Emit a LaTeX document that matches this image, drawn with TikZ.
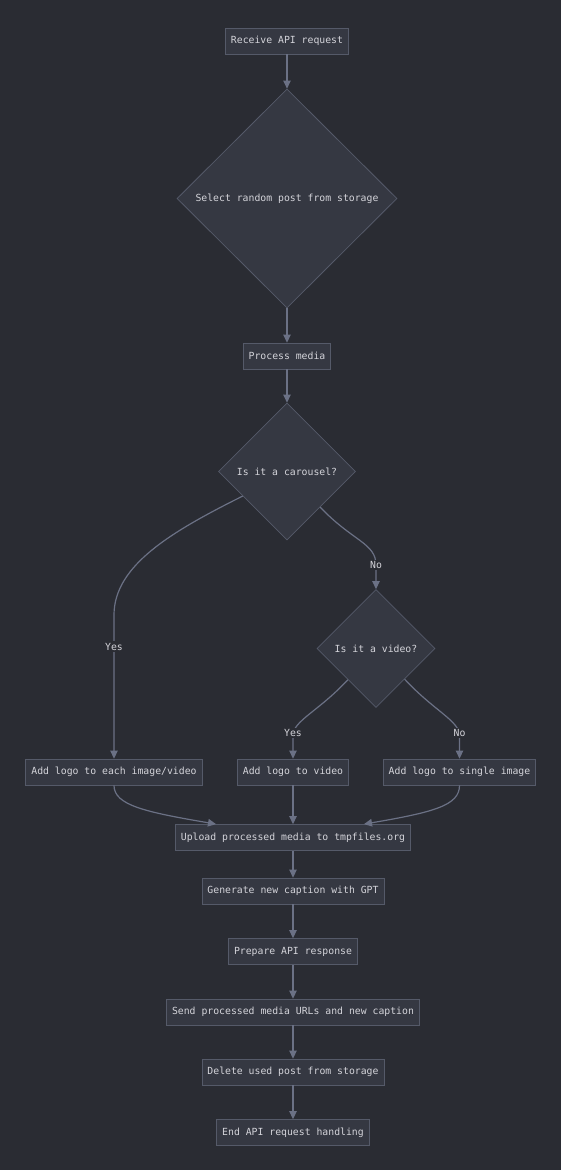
\documentclass[tikz,border=0pt]{standalone}
\usepackage{fontspec}
\setmonofont{DejaVu Sans Mono}
\usetikzlibrary{shapes.geometric,arrows.meta}
\definecolor{bgdark}{HTML}{2A2C33}
\definecolor{nodefill}{HTML}{353842}
\definecolor{nodeline}{HTML}{555A69}
\definecolor{edgeline}{HTML}{6B7185}
\definecolor{nodetext}{HTML}{D4D4DA}
\begin{document}
\begin{tikzpicture}[x=1pt,y=-1pt,
    box/.style={draw=nodeline,fill=nodefill,text=nodetext,line width=0.8pt,
        font=\ttfamily\fontsize{9.8}{12}\selectfont,minimum height=26pt,inner xsep=5.5pt},
    choice/.style={box,shape=diamond,inner sep=0pt},
    edge/.style={draw=edgeline,line width=1.2pt,-{Triangle[length=8pt,width=7.5pt]}},
    lbl/.style={fill=bgdark,text=nodetext,font=\ttfamily\fontsize{9.8}{12}\selectfont,inner sep=1.5pt}]
    % background
    \useasboundingbox (0,0) rectangle (560,1170);
    \fill[bgdark] (-3,-3) rectangle (563,1173);
    % request and selection
    \node[box] (recv) at (287,41) {Receive API request};
    \node[choice,minimum width=220pt,minimum height=219pt] (select) at (287,198.5) {Select random post from storage};
    \node[box] (procmedia) at (287,356) {Process media};
    % decisions
    \node[choice,minimum width=137pt,minimum height=137pt] (carousel) at (287,471.5) {Is it a carousel?};
    \node[choice,minimum width=118pt,minimum height=118pt] (video) at (376,648.5) {Is it a video?};
    % logo steps
    \node[box] (logoeach) at (114,772) {Add logo to each image/video};
    \node[box] (logovideo) at (293,772) {Add logo to video};
    \node[box] (logoimage) at (459.5,772) {Add logo to single image};
    % upload and response
    \node[box] (upload) at (293,837.5) {Upload processed media to tmpfiles.org};
    \node[box] (gencap) at (293,891) {Generate new caption with GPT};
    \node[box] (prepresp) at (293,951.5) {Prepare API response};
    \node[box] (sendurls) at (293,1012) {Send processed media URLs and new caption};
    \node[box] (delpost) at (293,1072) {Delete used post from storage};
    \node[box] (endreq) at (293,1132.5) {End API request handling};
    % main line
    \draw[edge] (recv) -- (select);
    \draw[edge] (select) -- (procmedia);
    \draw[edge] (procmedia) -- (carousel);
    % carousel branches
    \draw[edge] (carousel.209) .. controls +(-70,35) and +(0,-50) .. (114,615) -- node[lbl,pos=0.22] (yescar) {Yes} (logoeach.north);
    \draw[edge] (carousel.313) .. controls +(32,34) and +(0,-22) .. (376,565) node[lbl] (nocar) {No} -- (video.north);
    % video branches
    \draw[edge] (video.228) .. controls +(-28,30) and +(4,-14) .. (293,733) node[lbl] (yesvid) {Yes} -- (logovideo.north);
    \draw[edge] (video.313) .. controls +(28,30) and +(-4,-14) .. (459.5,733) node[lbl] (novid) {No} -- (logoimage.north);
    % merge into upload
    \draw[edge] (logoeach.south) .. controls +(0,20) and +(-70,-12) .. ([xshift=-77pt]upload.north);
    \draw[edge] (logovideo) -- (upload);
    \draw[edge] (logoimage.south) .. controls +(0,20) and +(70,-12) .. ([xshift=71pt]upload.north);
    % rest of the chain
    \draw[edge] (upload) -- (gencap);
    \draw[edge] (gencap) -- (prepresp);
    \draw[edge] (prepresp) -- (sendurls);
    \draw[edge] (sendurls) -- (delpost);
    \draw[edge] (delpost) -- (endreq);
\end{tikzpicture}
\end{document}
